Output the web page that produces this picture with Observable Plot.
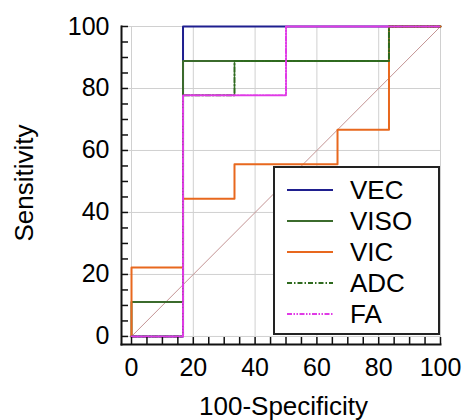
<!DOCTYPE html>
<html><head><meta charset="utf-8">
<script src="https://cdn.jsdelivr.net/npm/d3@7"></script>
<script src="https://cdn.jsdelivr.net/npm/@observablehq/plot@0.6"></script>
<style>
body{margin:0;background:#fff;font-family:"Liberation Sans",Arial,sans-serif;}
#wrap{position:relative;width:465px;height:420px;}
#legend{position:absolute;left:273px;top:166px;width:167px;height:169px;border:2px solid #222;background:#fff;box-sizing:border-box;}
.item{position:absolute;left:12px;display:flex;align-items:center;font-size:26px;color:#000;}
.item svg{margin-right:17px;}
.title{position:absolute;font-size:26px;color:#000;white-space:nowrap;line-height:30px;}
</style></head>
<body><div id="wrap"><div id="legend"></div>
<div class="title" id="xt" style="left:199px;top:391px;"></div>
<div class="title" id="yt" style="left:-35px;top:168px;transform:rotate(-90deg);"></div>
</div>
<script>
const seriesNames = ["VEC","VISO","VIC","ADC","FA"];
const seriesColors = ["#1f1f8f","#3b6b2c","#e8681e","#2e6a1e","#e03ae6"];
const seriesDash = [null,null,null,"5,2,1.5,2","5,1.5,1.5,1.5,1.5,1.5"];
const fprVEC = [0,16.67,100],              tprVEC = [0,100,100];
const fprVISO = [0,0,16.67,83.33,100],     tprVISO = [0,11.11,88.89,100,100];
const fprVIC = [0,0,16.67,33.33,66.67,83.33,100], tprVIC = [0,22.22,44.44,55.56,66.67,100,100];
const fprADC = [0,16.67,33.33,83.33,100],  tprADC = [0,77.78,88.89,100,100];
const fprFA = [0,16.67,50,100],            tprFA = [0,77.78,100,100];
const majorTicks = [0,20,40,60,80,100];
const minorTicks = d3.range(0,101,5);
const refLine = [0,100];
const xTitle = "100-Specificity", yTitle = "Sensitivity";

const fprs = [fprVEC,fprVISO,fprVIC,fprADC,fprFA];
const tprs = [tprVEC,tprVISO,tprVIC,tprADC,tprFA];
const rows = seriesNames.flatMap((s,i)=>fprs[i].map((x,j)=>({s, x, y: tprs[i][j]})));

const W=465, H=420, mL=121, mR=25, mT=26, mB=76;
const pw = W-mL-mR, ph = H-mT-mB, tl = 7;
const font = '"Liberation Sans", Arial, sans-serif';
const marks = [
  Plot.gridX(majorTicks, {stroke:"#d0d0d0", strokeOpacity:1}),
  Plot.gridY(majorTicks, {stroke:"#d0d0d0", strokeOpacity:1}),
  Plot.line(refLine, {x:d=>d, y:d=>d, stroke:"#c49494", strokeWidth:1}),
  ...seriesNames.map((s,i)=>Plot.line(rows.filter(r=>r.s===s), {x:"x", y:"y", curve:"step-after", stroke:seriesColors[i], strokeWidth:2, strokeDasharray:seriesDash[i]})),
  Plot.tickX(minorTicks, {x:d=>d, insetTop:ph-tl, stroke:"#111", strokeWidth:1.5}),
  Plot.tickY(minorTicks, {y:d=>d, insetRight:pw-tl, stroke:"#111", strokeWidth:1.5}),
  Plot.axisX(majorTicks, {tickSize:0, tickPadding:14, fontSize:25, label:null}),
  Plot.axisY(majorTicks, {tickSize:0, tickPadding:12, fontSize:25, label:null}),
  Plot.frame({anchor:"left", stroke:"#111", strokeWidth:2}),
  Plot.frame({anchor:"bottom", stroke:"#111", strokeWidth:2})
];
const chart = Plot.plot({
  width:W, height:H,
  marginLeft:mL, marginRight:mR, marginTop:mT, marginBottom:mB,
  x:{domain:[-3.24,100]}, y:{domain:[-2.6,100]},
  style:{fontFamily:font, fontSize:"25px", color:"#000", background:"#fff", overflow:"visible"},
  marks
});
document.getElementById("wrap").prepend(chart);
chart.style.position="absolute"; chart.style.left="0"; chart.style.top="0";
document.getElementById("xt").textContent = xTitle;
document.getElementById("yt").textContent = yTitle;

const leg = d3.select("#legend");
seriesNames.forEach((s,i)=>{
  const it = leg.append("div").attr("class","item").style("top",(7+i*31)+"px").style("height","30px");
  const sv = it.append("svg").attr("width",46).attr("height",6);
  sv.append("line").attr("x1",0).attr("x2",46).attr("y1",3).attr("y2",3)
    .attr("stroke",seriesColors[i]).attr("stroke-width",2).attr("stroke-dasharray",seriesDash[i]);
  it.append("span").text(s);
});
</script></body></html>
